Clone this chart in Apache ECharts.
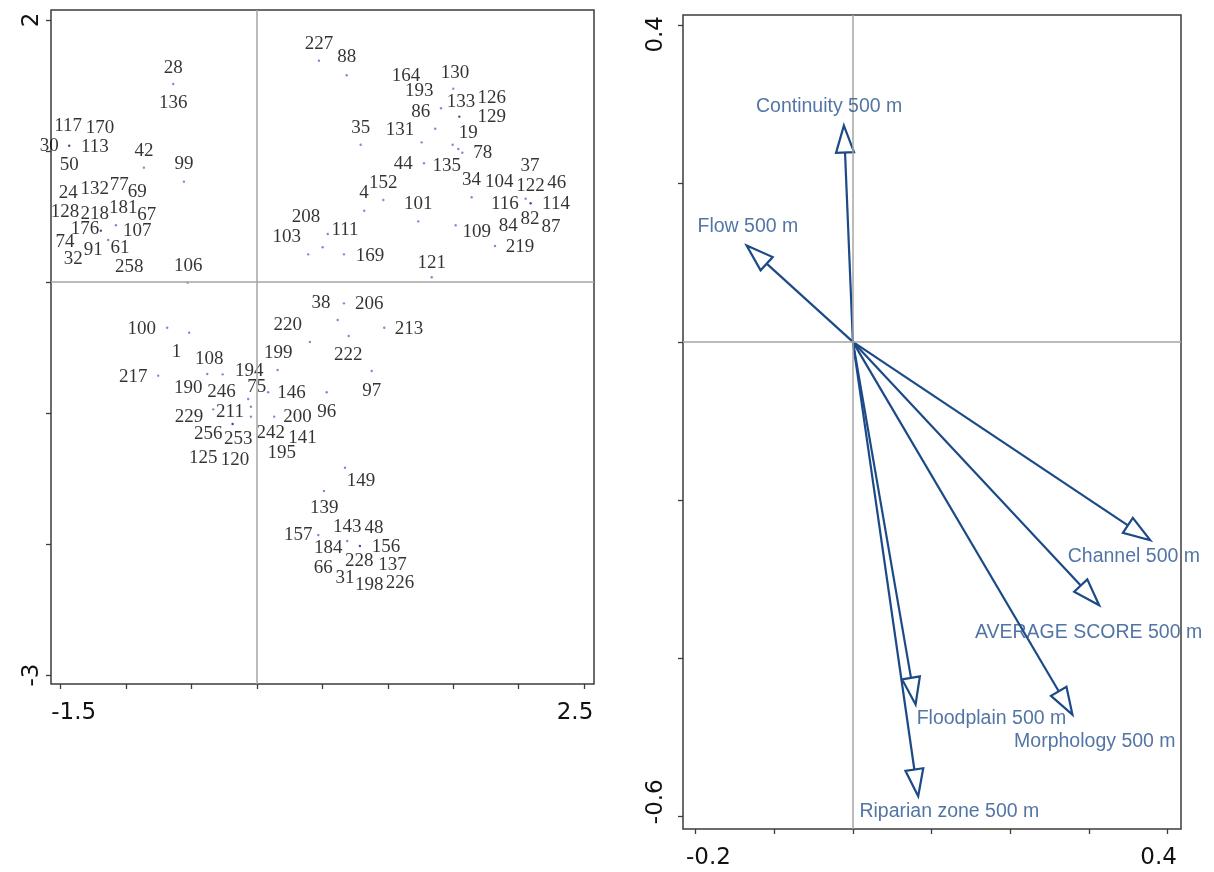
<!DOCTYPE html>
<html><head><meta charset="utf-8">
<script src="https://cdn.jsdelivr.net/npm/echarts@6/dist/echarts.min.js"></script>
<style>html,body{margin:0;padding:0;background:#fff}#c{width:1214px;height:872px}</style>
</head><body><div id="c"></div>
<script>
// ---- left panel: site scores ----
const siteLabels = ["28","136","117","170","30","113","42","50","99","24","132","77","69","128","218","181","67","176","107","74","91","61","32","258","106",
 "227","88","164","130","193","133","126","86","129","35","131","19","78","44","135","37","34","104","122","46","152","4","101","116","114","208","111","84","82","87","109","103","169","219","121",
 "100","1","108","217","194","190","246","75","211","229","256","253","242","125","120","195",
 "38","206","220","213","199","222","146","97","96","200","141","149","139","143","48","157","184","156","228","137","66","31","198","226"];
const siteLabelX = [-0.640,-0.640,-1.443,-1.200,-1.588,-1.239,-0.864,-1.435,-0.558,-1.443,-1.239,-1.053,-0.915,-1.468,-1.239,-1.022,-0.843,-1.315,-0.915,-1.468,-1.252,-1.047,-1.404,-0.976,-0.525,
 0.474,0.686,1.139,1.514,1.241,1.560,1.794,1.252,1.794,0.793,1.093,1.615,1.726,1.118,1.450,2.087,1.641,1.852,2.092,2.291,0.966,0.818,1.233,1.896,2.286,0.375,0.673,1.921,2.087,2.248,1.680,0.227,0.864,2.011,1.336,
 -0.881,-0.614,-0.365,-0.946,-0.059,-0.525,-0.270,-0.002,-0.206,-0.520,-0.372,-0.143,0.105,-0.411,-0.168,0.189,
 0.489,0.859,0.235,1.162,0.163,0.698,0.265,0.877,0.533,0.311,0.349,0.795,0.515,0.690,0.894,0.316,0.545,0.986,0.782,1.037,0.507,0.673,0.859,1.093];
const siteLabelY = [1.636,1.364,1.193,1.173,1.040,1.033,1.000,0.893,0.901,0.677,0.708,0.740,0.689,0.537,0.519,0.563,0.511,0.402,0.392,0.308,0.244,0.257,0.176,0.117,0.124,
 1.817,1.715,1.573,1.598,1.460,1.374,1.402,1.300,1.262,1.178,1.160,1.140,0.982,0.901,0.885,0.885,0.779,0.761,0.733,0.758,0.758,0.682,0.593,0.595,0.595,0.494,0.397,0.427,0.481,0.422,0.379,0.341,0.201,0.269,0.143,
 -0.359,-0.532,-0.590,-0.723,-0.679,-0.811,-0.842,-0.804,-0.995,-1.033,-1.163,-1.201,-1.155,-1.346,-1.359,-1.309,
 -0.163,-0.170,-0.328,-0.359,-0.540,-0.557,-0.850,-0.830,-0.990,-1.033,-1.193,-1.517,-1.723,-1.868,-1.880,-1.931,-2.033,-2.021,-2.127,-2.160,-2.185,-2.262,-2.313,-2.300];
const pointX = [-0.640,-1.435,-0.864,-0.558,-1.193,-1.078,-1.137,-0.530,0.474,0.686,1.501,1.407,1.547,0.793,1.259,1.363,1.496,1.539,1.570,1.277,1.641,0.966,0.820,1.233,2.054,2.092,0.541,1.519,0.392,0.502,0.665,1.820,1.336,-0.686,-0.518,-0.755,-0.380,-0.262,0.086,-0.067,-0.334,-0.046,-0.046,0.132,-0.186,0.665,0.617,0.973,0.701,0.405,0.158,0.877,0.533,0.673,0.512,0.469,0.690,0.787];
const pointY = [1.511,1.040,0.873,0.766,0.392,0.433,0.321,-0.005,1.689,1.578,1.476,1.326,1.262,1.048,1.066,1.170,1.048,1.015,0.987,0.906,0.647,0.626,0.544,0.463,0.636,0.601,0.366,0.433,0.211,0.265,0.211,0.275,0.036,-0.349,-0.387,-0.715,-0.702,-0.705,-0.842,-0.893,-0.972,-0.952,-1.028,-1.028,-1.084,-0.163,-0.290,-0.349,-0.412,-0.458,-0.672,-0.679,-0.842,-1.418,-1.595,-1.931,-1.977,-2.015];
const pointCount = [1,2,1,1,2,1,1,1,1,1,1,1,2,1,1,1,1,1,1,1,1,1,1,1,1,2,1,1,1,1,1,1,1,1,1,1,1,1,1,1,1,1,1,1,2,1,1,1,1,1,1,1,1,1,1,1,1,2];
const leftXTicks = [-1.5,-1,-0.5,0,0.5,1,1.5,2,2.5];
const leftXLabels = [-1.5,2.5];
const leftYTicks = [-3,-2,-1,0,1,2];
const leftYLabels = [-3,2];

// ---- right panel: environmental vectors ----
const arrowNames = ["Continuity 500 m","Flow 500 m","Channel 500 m","AVERAGE SCORE 500 m","Morphology 500 m","Floodplain 500 m","Riparian zone 500 m"];
const arrowX = [-0.0114,-0.135,0.378,0.313,0.279,0.0797,0.083];
const arrowY = [0.2733,0.1217,-0.2507,-0.3328,-0.4709,-0.4582,-0.5741];
const arrowLabelX = [-0.0302,-0.1334,0.3571,0.2995,0.3075,0.1761,0.1226];
const arrowLabelY = [0.2977,0.1461,-0.2713,-0.3669,-0.5046,-0.4763,-0.5931];
const rightXTicks = [-0.2,-0.1,0,0.1,0.2,0.3,0.4];
const rightXLabels = [-0.2,0.4];
const rightYTicks = [-0.6,-0.4,-0.2,0,0.2,0.4];
const rightYLabels = [-0.6,0.4];

const ARROW = '#1c4a87', ARROWTXT = '#27538f', BOX = '#3c3c3c', ZERO = '#a4a4a4';
const axisFont = {fontFamily:'DejaVu Sans', fontSize:23, color:'#111'};

function xAxisCfg(grid, min, max, ticks, labels, first, last){
  return {type:'value', gridIndex:grid, min:min, max:max, splitLine:{show:false},
    axisLine:{show:false, onZero:false},
    axisTick:{show:true, customValues:ticks, length:5, lineStyle:{color:BOX, width:1.3}},
    axisLabel:Object.assign({show:true, customValues:labels, margin:18,
      formatter:v => (v===labels[0] ? '{a|'+first+'}' : '{b|'+last+'}'),
      rich:{a:Object.assign({padding:[0,0,0,26]},axisFont), b:Object.assign({padding:[0,18,0,0]},axisFont)}}, axisFont)};
}
function yAxisCfg(grid, min, max, ticks, labels, low, high, margin, padLow, padHigh){
  return {type:'value', gridIndex:grid, min:min, max:max, splitLine:{show:false},
    axisLine:{show:false, onZero:false},
    axisTick:{show:true, customValues:ticks, length:5, lineStyle:{color:BOX, width:1.3}},
    axisLabel:Object.assign({show:true, customValues:labels, margin:margin, rotate:90,
      formatter:v => (v===labels[0] ? '{a|'+low+'}' : '{b|'+high+'}'),
      rich:{a:Object.assign({padding:[0,0,0,padLow]},axisFont), b:Object.assign({padding:[0,padHigh,0,0]},axisFont)}}, axisFont)};
}

const chart = echarts.init(document.getElementById('c'), null, {renderer:'canvas'});
chart.setOption({
  animation:false,
  backgroundColor:'#fff',
  grid:[
    {left:51, top:10, width:543, height:674, show:true, borderColor:BOX, borderWidth:1.5, backgroundColor:'transparent'},
    {left:683, top:15, width:498, height:814, show:true, borderColor:BOX, borderWidth:1.5, backgroundColor:'transparent'}
  ],
  xAxis:[
    xAxisCfg(0, -1.5742, 2.5765, leftXTicks, leftXLabels, '-1.5', '2.5'),
    xAxisCfg(1, -0.2159, 0.4170, rightXTicks, rightXLabels, '-0.2', '0.4')
  ],
  yAxis:[
    yAxisCfg(0, -3.0687, 2.0763, leftYTicks, leftYLabels, '-3', '2', 7, 0, 0),
    yAxisCfg(1, -0.6155, 0.4130, rightYTicks, rightYLabels, '-0.6', '0.4', 15, 30, 18)
  ],
  series:[
    {type:'scatter', xAxisIndex:0, yAxisIndex:0, data:[], silent:true, z:1,
     markLine:{silent:true, symbol:'none', label:{show:false}, lineStyle:{color:ZERO, width:1.5, type:'solid'},
       data:[{xAxis:0},{yAxis:0}]}},
    {type:'scatter', xAxisIndex:1, yAxisIndex:1, data:[], silent:true, z:1,
     markLine:{silent:true, symbol:'none', label:{show:false}, lineStyle:{color:ZERO, width:1.5, type:'solid'},
       data:[{xAxis:0},{yAxis:0}]}},
    {type:'scatter', xAxisIndex:0, yAxisIndex:0, z:3, symbol:'circle', symbolSize:2.4, clip:false,
     data:pointX.map((x,i)=>[x, pointY[i]]),
     itemStyle:{color:p => pointCount[p.dataIndex] > 1 ? '#1d1a78' : '#6e66c2'}},
    {type:'scatter', xAxisIndex:0, yAxisIndex:0, z:4, symbolSize:1, clip:false,
     data:siteLabels.map((n,i)=>({name:n, value:[siteLabelX[i], siteLabelY[i]]})),
     itemStyle:{color:'rgba(0,0,0,0)'},
     label:{show:true, position:'inside', formatter:p=>p.name, fontFamily:'Liberation Serif', fontSize:19, color:'#000'}},
    {type:'custom', xAxisIndex:1, yAxisIndex:1, z:3, clip:false,
     data:arrowX.map((x,i)=>[x, arrowY[i]]),
     renderItem:function(params, api){
       const o = api.coord([0,0]);
       const p = api.coord([api.value(0), api.value(1)]);
       const dx = p[0]-o[0], dy = p[1]-o[1], L = Math.hypot(dx,dy);
       const ux = dx/L, uy = dy/L, hl = 27, hw = 9;
       const bx = p[0]-ux*hl, by = p[1]-uy*hl;
       return {type:'group', children:[
         {type:'line', shape:{x1:o[0], y1:o[1], x2:bx, y2:by}, style:{stroke:ARROW, lineWidth:2.2}},
         {type:'polygon', shape:{points:[[p[0],p[1]],[bx-uy*hw, by+ux*hw],[bx+uy*hw, by-ux*hw]]},
          style:{fill:'#fff', stroke:ARROW, lineWidth:2.2, lineJoin:'miter'}}
       ]};
     }},
    {type:'scatter', xAxisIndex:1, yAxisIndex:1, z:5, symbolSize:1, clip:false,
     data:arrowNames.map((n,i)=>({name:n, value:[arrowLabelX[i], arrowLabelY[i]]})),
     itemStyle:{color:'rgba(0,0,0,0)'},
     label:{show:true, position:'inside', formatter:p=>p.name, fontFamily:'Liberation Sans', fontSize:19.5, color:ARROWTXT}}
  ]
});
</script>
</body></html>
